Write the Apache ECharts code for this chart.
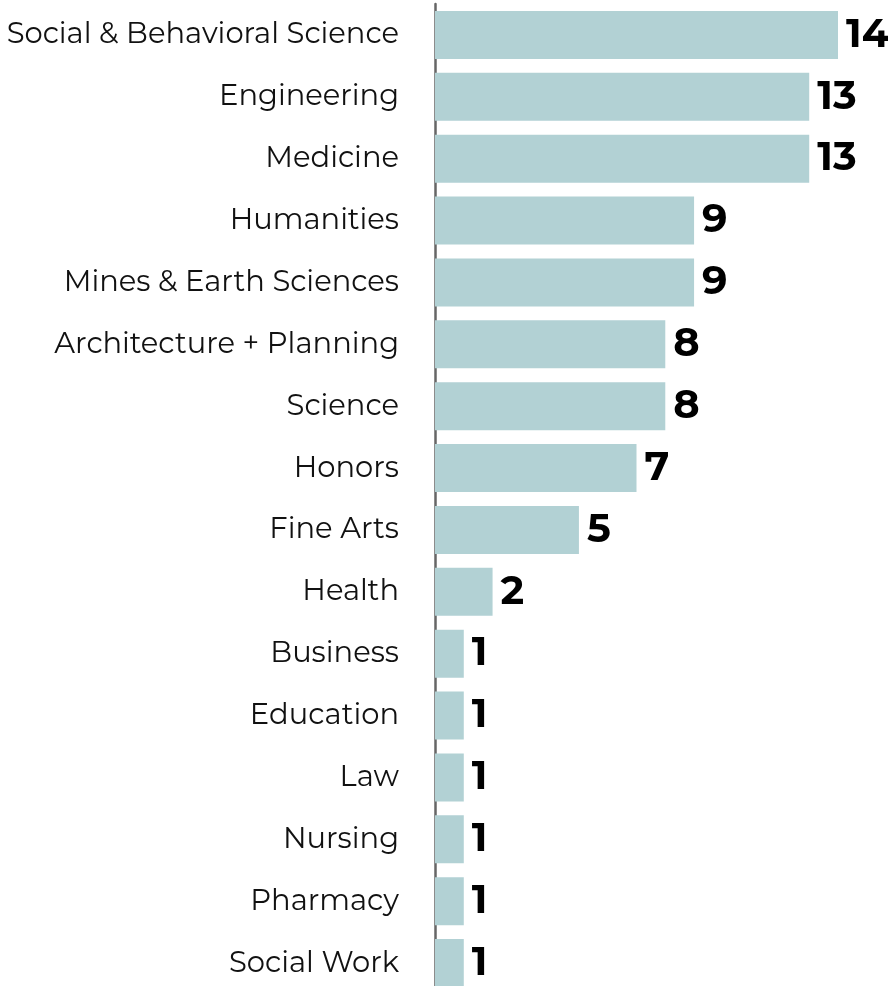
<!DOCTYPE html>
<html><head><meta charset="utf-8">
<script src="https://cdn.jsdelivr.net/npm/echarts@6/dist/echarts.min.js"></script>
<style>html,body{margin:0;padding:0;background:#fff;overflow:hidden}#c{width:888px;height:1000px}</style>
</head><body><div id="c"></div>
<script>
const categories = ["Social & Behavioral Science","Engineering","Medicine","Humanities","Mines & Earth Sciences","Architecture + Planning","Science","Honors","Fine Arts","Health","Business","Education","Law","Nursing","Pharmacy","Social Work"];
const values = [14,13,13,9,9,8,8,7,5,2,1,1,1,1,1,1];
const chart = echarts.init(document.getElementById('c'));
chart.setOption({
  animation:false,
  grid:{left:435, top:4, width:403, height:990, containLabel:false},
  xAxis:{type:'value', min:0, max:14, show:false},
  yAxis:{type:'category', data:categories, inverse:true,
    axisLine:{show:true, lineStyle:{color:'#666', width:2.5}},
    axisTick:{show:false},
    axisLabel:{margin:36, fontSize:29, color:'#111', fontFamily:'Montserrat, Lato, "Noto Sans", sans-serif'}},
  series:[{type:'bar', data:values, barCategoryGap:'22.4%',
    itemStyle:{color:'#b2d1d4'},
    label:{show:true, position:'right', distance:8, fontSize:40, fontWeight:'bold', color:'#000', fontFamily:'Montserrat, "Liberation Sans", sans-serif'}}]
});
</script></body></html>
